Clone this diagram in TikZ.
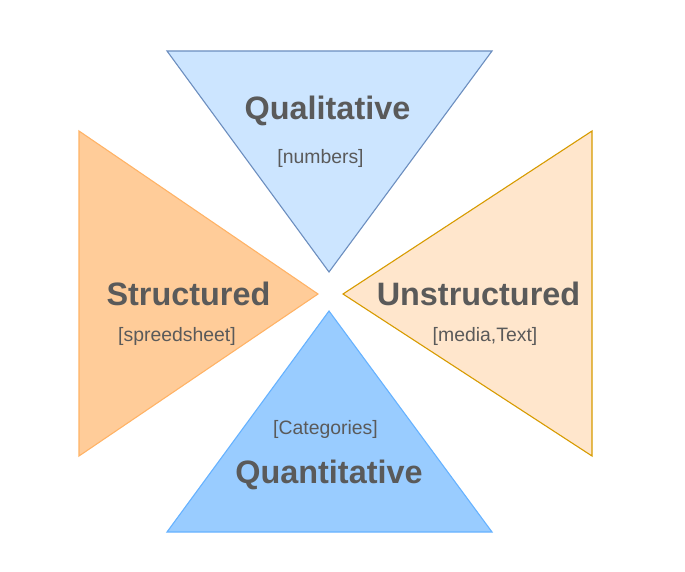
\documentclass[tikz,border=0pt]{standalone}
\usepackage{fontspec}
\setmainfont{Liberation Sans}
\definecolor{txt}{HTML}{5A5A5A}
\definecolor{topfill}{HTML}{CCE5FF}
\definecolor{topline}{HTML}{6C8EBF}
\definecolor{leftfill}{HTML}{FFCC99}
\definecolor{leftline}{HTML}{FFB366}
\definecolor{rightfill}{HTML}{FFE6CC}
\definecolor{rightline}{HTML}{D79B00}
\definecolor{botfill}{HTML}{99CCFF}
\definecolor{botline}{HTML}{66B2FF}
\tikzset{
  tri/.style={line width=1.1pt, line join=miter},
  title/.style={anchor=base, inner sep=0pt, text=txt, font=\fontsize{32.4}{38}\selectfont\bfseries},
  sub/.style={anchor=base, inner sep=0pt, text=txt, font=\fontsize{19.4}{23}\selectfont},
}
\begin{document}
\begin{tikzpicture}[x=1pt,y=-1pt]
\useasboundingbox (0,0) rectangle (685,572);
% top triangle
\coordinate (t1) at (167,51); \coordinate (t2) at (492,51); \coordinate (t3) at (329,272);
\draw[tri, fill=topfill, draw=topline] (t1) -- (t2) -- (t3) -- cycle;
% left triangle
\coordinate (l1) at (79,131); \coordinate (l2) at (79,456); \coordinate (l3) at (318,294);
\draw[tri, fill=leftfill, draw=leftline] (l1) -- (l3) -- (l2) -- cycle;
% right triangle
\coordinate (r1) at (592,131); \coordinate (r2) at (592,456); \coordinate (r3) at (343,294);
\draw[tri, fill=rightfill, draw=rightline] (r1) -- (r3) -- (r2) -- cycle;
% bottom triangle
\coordinate (b1) at (329,311); \coordinate (b2) at (167,532); \coordinate (b3) at (492,532);
\draw[tri, fill=botfill, draw=botline] (b1) -- (b3) -- (b2) -- cycle;
% texts
\node[title] (qual) at (327.5,120) {Qualitative};
\node[sub] (num) at (320.5,164) {[numbers]};
\node[title] (str) at (188.5,305) {Structured};
\node[sub] (spr) at (177,341) {[spreedsheet]};
\node[title] (unstr) at (478.5,305) {Unstructured};
\node[sub] (med) at (485,341) {[media,Text]};
\node[sub] (cat) at (325.5,434) {[Categories]};
\node[title] (quant) at (329,483) {Quantitative};
\end{tikzpicture}
\end{document}
